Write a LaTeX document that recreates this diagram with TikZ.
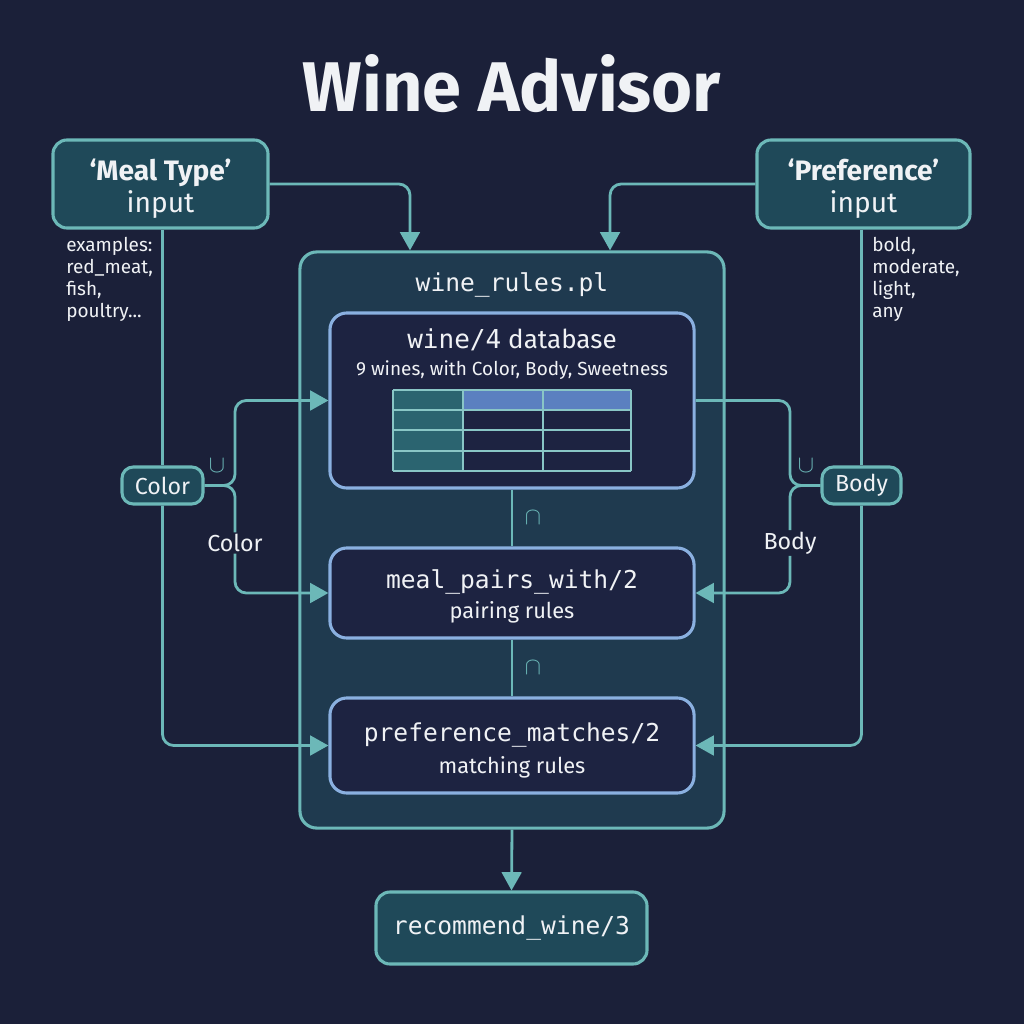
\documentclass[tikz,border=0pt]{standalone}
\usepackage{fontspec}
\setmainfont{Fira Sans}
\setmonofont{DejaVu Sans Mono}
\usetikzlibrary{arrows.meta,
                positioning}

\definecolor{bgnavy}{HTML}{1B2039}
\definecolor{outerfill}{HTML}{1F3A4F}
\definecolor{inputfill}{HTML}{1F4959}
\definecolor{rulefill}{HTML}{1D2341}
\definecolor{lineteal}{HTML}{6CB8B8}
\definecolor{ruleblue}{HTML}{8AB0E0}
\definecolor{textwhite}{HTML}{F0F2F5}
\definecolor{cellteal}{HTML}{2B6470}
\definecolor{cellblue}{HTML}{5B80C0}

\begin{document}
\begin{tikzpicture}[x=0.025cm,y=-0.025cm,
  flow/.style={draw=lineteal,line width=2pt,rounded corners=8pt},
  tip/.style={-{Triangle[length=13pt,width=14pt]}},
  inbox/.style={draw=lineteal,line width=2.2pt,fill=inputfill,rounded corners=10pt,
                text=textwhite,align=center,inner sep=0pt},
  rulebox/.style={draw=ruleblue,line width=2.2pt,fill=rulefill,rounded corners=12pt,
                  minimum width=9.1cm,text=textwhite,align=center,inner sep=0pt},
  tag/.style={inbox,rounded corners=8pt,minimum height=0.925cm,font=\fontsize{16.5}{19}\selectfont},
  note/.style={text=textwhite,align=left,anchor=north west,inner sep=0pt,
               font=\fontsize{13.5}{15.6}\selectfont},
  lbl/.style={text=textwhite,inner sep=1pt,font=\fontsize{16.5}{19}\selectfont},
  sym/.style={text=lineteal,inner sep=0pt,font=\fontsize{17}{19}\selectfont}]

\fill[bgnavy] (0,0) rectangle (1024,1024);

\node[text=textwhite,font=\fontsize{50}{58}\selectfont\bfseries] (title) at (512,84) {Wine Advisor};

% inputs
\node[inbox,minimum width=5.375cm,minimum height=2.2cm,font=\fontsize{20}{23}\selectfont]
  (meal) at (160.5,184) {\rule{0pt}{22pt}\bfseries ‘Meal Type’\\ input};
\node[inbox,minimum width=5.325cm,minimum height=2.2cm,font=\fontsize{20}{23}\selectfont]
  (pref) at (863.5,184) {\rule{0pt}{22pt}\bfseries ‘Preference’\\ input};
\node[note] (mealnote) at (66,237) {examples:\\red\_meat,\\fish,\\poultry...};
\node[note] (prefnote) at (872,237) {bold,\\moderate,\\light,\\any};

% rule file
\node[draw=lineteal,line width=2.2pt,fill=outerfill,rounded corners=12pt,
      minimum width=10.6cm,minimum height=14.4cm] (rules) at (512,540) {};
\node[text=textwhite,font=\fontsize{17.5}{20}\selectfont\ttfamily] (rulesname) at (512,285) {wine\_rules.pl};

\node[rulebox,minimum height=4.375cm] (wine) at (512,400.5) {};
\node[text=textwhite,font=\fontsize{18.5}{22}\selectfont] (winename) at (512,340)
  {\texttt{wine/4} database};
\node[text=textwhite,font=\fontsize{13.5}{16}\selectfont] (winesub) at (512,370)
  {9 wines, with Color, Body, Sweetness};

\fill[cellteal] (393,390) rectangle (463,471);
\fill[cellblue] (463,390) rectangle (631,410);
\foreach \y in {390,410,430,451,471}
  \draw[lineteal!80!white,line width=1.5pt] (393,\y) -- (631,\y);
\foreach \x in {393,463,543,631}
  \draw[lineteal!80!white,line width=1.5pt] (\x,390) -- (\x,471);

\node[rulebox,minimum height=2.25cm,font=\fontsize{15.5}{21.5}\selectfont] (pairs) at (512,593)
  {\rule{0pt}{18pt}{\fontsize{17.5}{20}\selectfont\ttfamily meal\_pairs\_with/2}\\ pairing rules};
\node[rulebox,minimum height=2.375cm,font=\fontsize{15.5}{22.5}\selectfont] (match) at (512,745.5)
  {\rule{0pt}{20pt}{\fontsize{17.5}{20}\selectfont\ttfamily preference\_matches/2}\\ matching rules};

\node[inbox,minimum width=6.775cm,minimum height=1.8cm,font=\fontsize{17.5}{20}\selectfont\ttfamily]
  (recommend) at (511.5,928) {recommend\_wine/3};

% filters
\node[tag,minimum width=2.025cm] (color) at (162.5,485.5) {Color};
\node[tag,minimum width=1.975cm] (body) at (861.5,485.5) {Body};
\node[lbl] (colorlbl) at (235,543) {Color};
\node[lbl] (bodylbl) at (790,543) {Body};
\node[sym] (cupl) at (217,466) {$\cup$};
\node[sym] (cupr) at (806,466) {$\cup$};
\node[sym] (capa) at (533,518) {$\cap$};
\node[sym] (capb) at (533,668) {$\cap$};

\draw[flow,tip] (meal.east) -| ([xshift=-2.55cm]rules.north);
\draw[flow,tip] (pref.west) -| ([xshift=2.45cm]rules.north);

\draw[flow] (color.north |- meal.south) -- (color.north);
\draw[flow,tip] (color.south) |- (match.west);
\draw[flow,tip] (color.east) -| (colorlbl.north |- wine.west) -- (wine.west);
\draw[flow] (color.east) -| (colorlbl.north);
\draw[flow,tip] (colorlbl.south) |- (pairs.west);

\draw[flow] (body.north |- pref.south) -- (body.north);
\draw[flow,tip] (body.south) |- (match.east);
\draw[flow] (body.west) -| (bodylbl.north |- wine.east) -- (wine.east);
\draw[flow] (body.west) -| (bodylbl.north);
\draw[flow,tip] (bodylbl.south) |- (pairs.east);

\draw[flow] (wine.south) -- (pairs.north);
\draw[flow] (pairs.south) -- (match.north);
\draw[flow,tip] (rules.south) -- (recommend.north);

\end{tikzpicture}
\end{document}
